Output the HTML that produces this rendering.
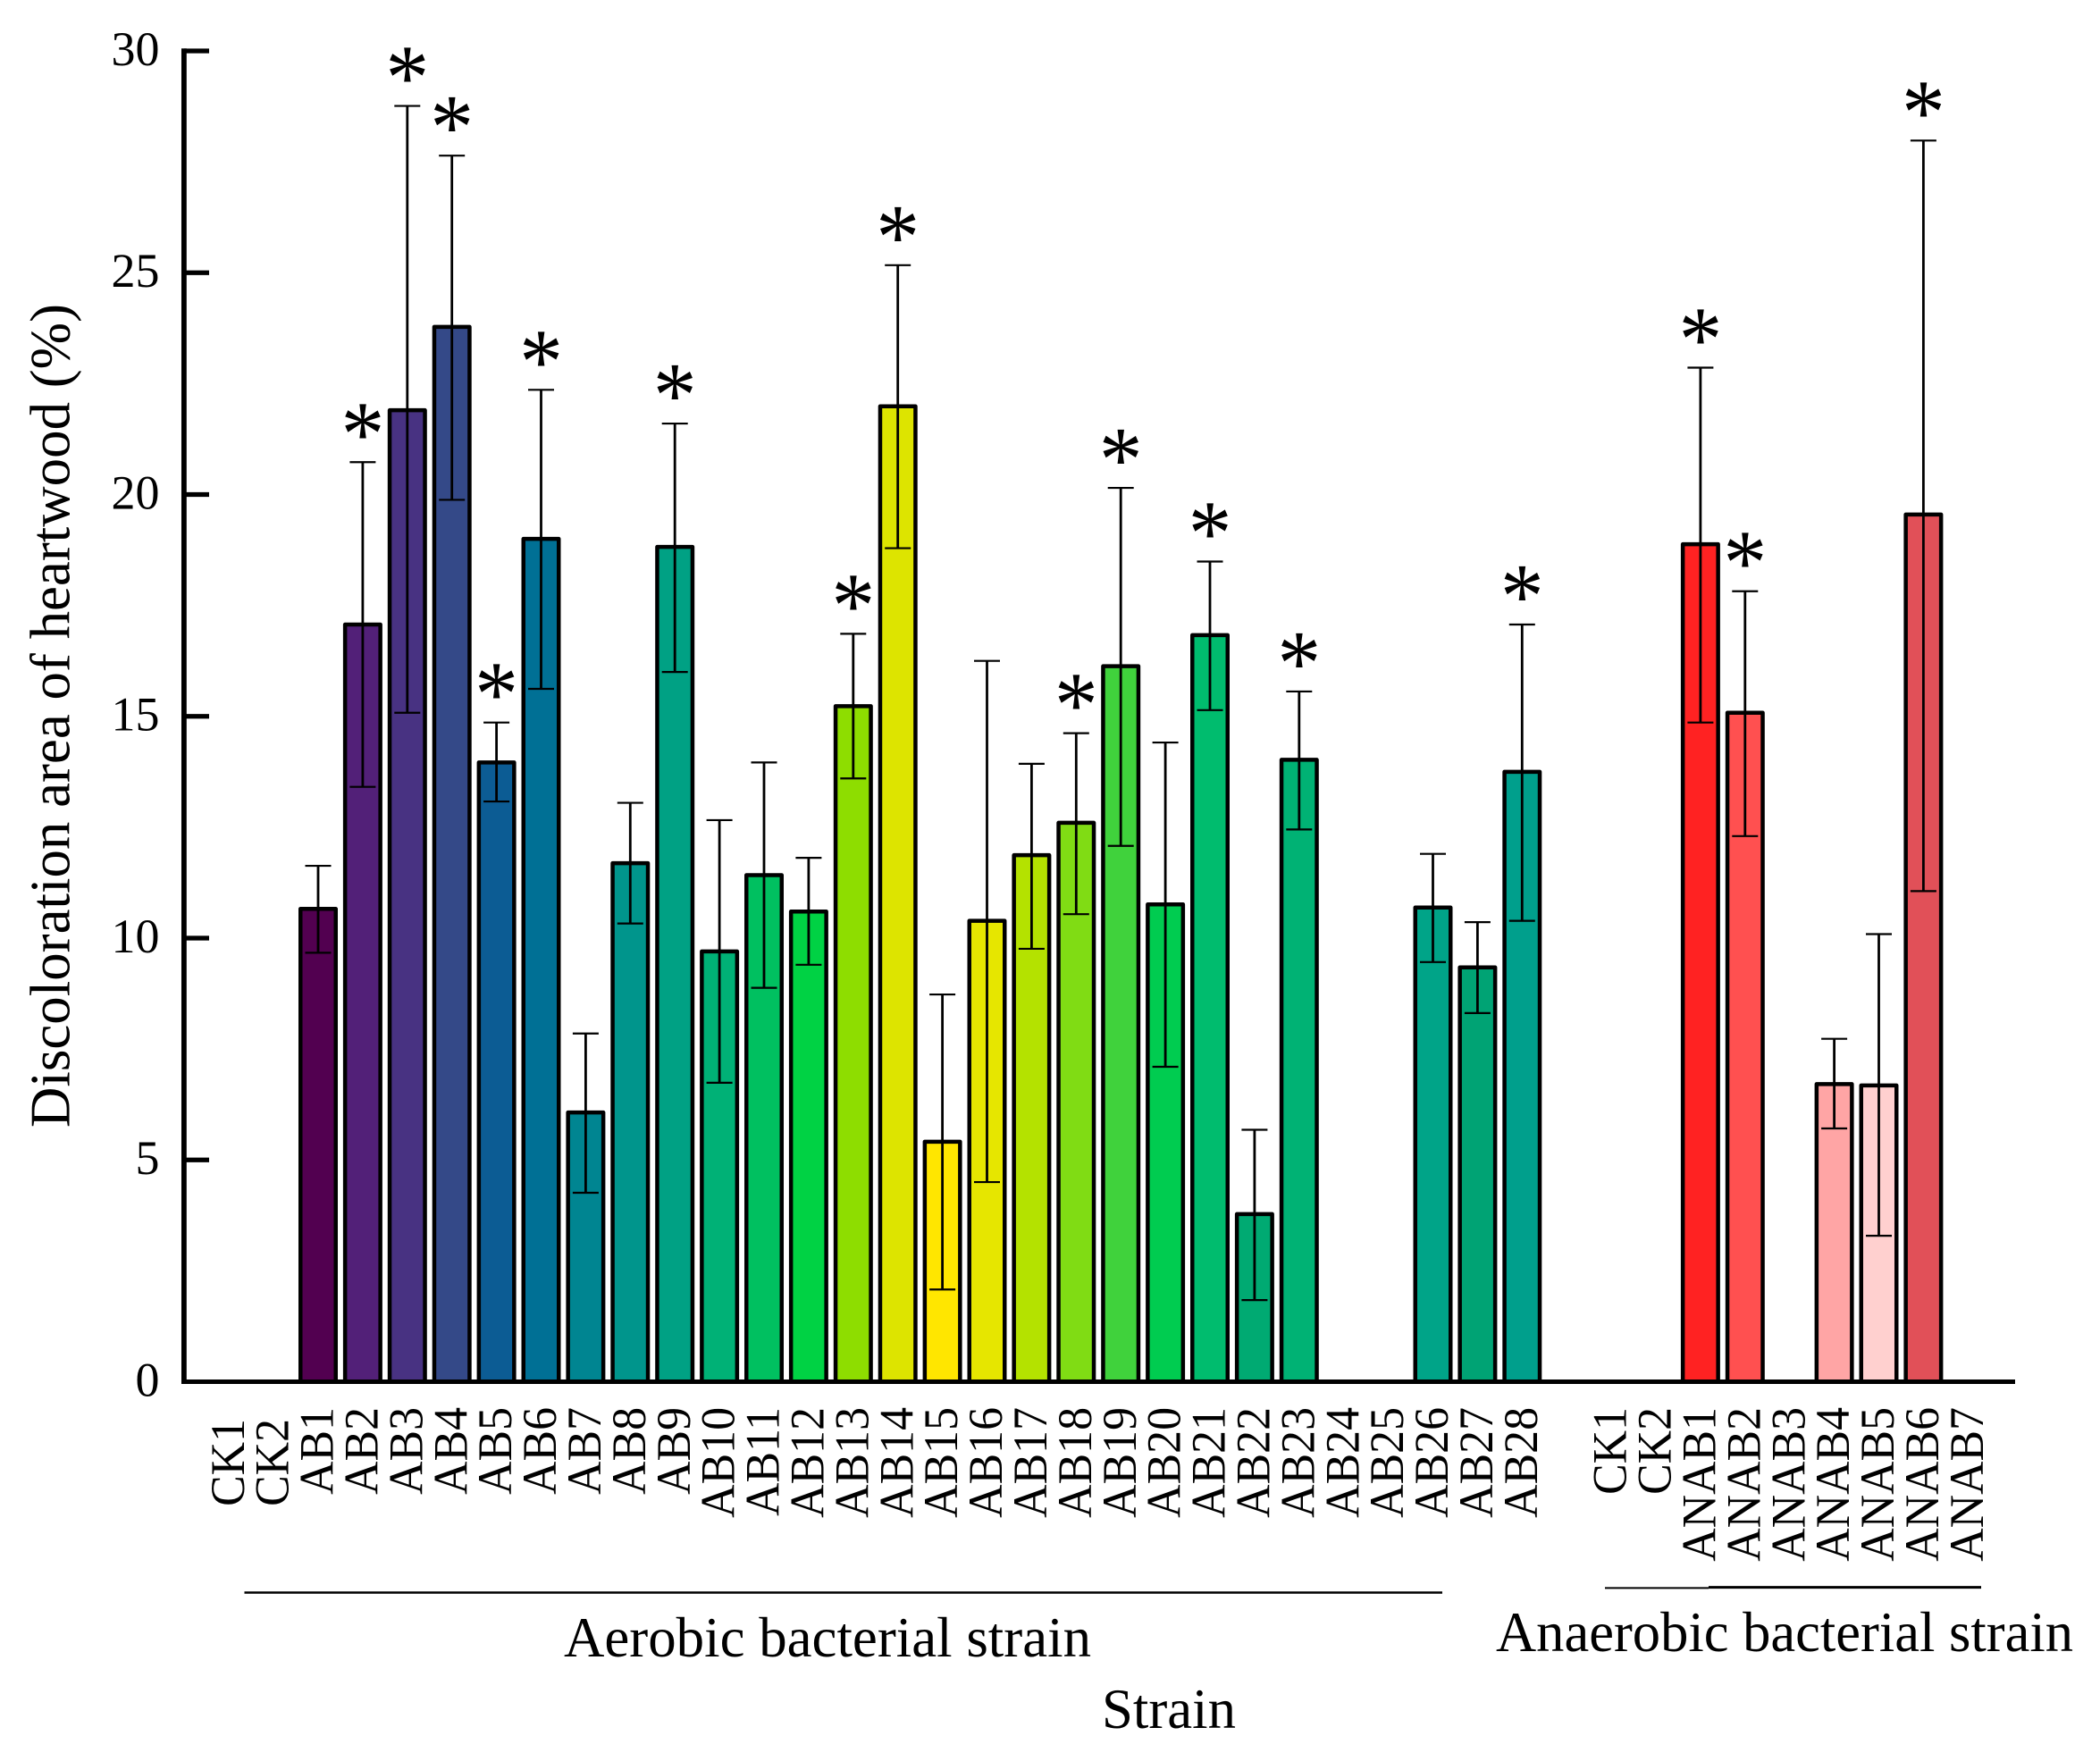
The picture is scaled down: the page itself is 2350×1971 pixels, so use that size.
<!DOCTYPE html>
<html lang="en">
<head>
<meta charset="utf-8">
<title>Discoloration area of heartwood by strain</title>
<style>
html,body{margin:0;padding:0;background:#fff;}
svg{display:block;}
text{font-family:"Liberation Serif","Times New Roman",serif;fill:#000;}
</style>
</head>
<body>
<svg id="chart" xmlns="http://www.w3.org/2000/svg" width="2350" height="1971" viewBox="0 0 2350 1971">
<rect x="0" y="0" width="2350" height="1971" fill="#fff"/>
<text x="77.3" y="801" font-size="63" text-anchor="middle" transform="rotate(-90 77.3 801)" textLength="922" lengthAdjust="spacingAndGlyphs">Discoloration area of heartwood (%)</text>
<text x="631" y="1854" font-size="64" textLength="590" lengthAdjust="spacingAndGlyphs">Aerobic bacterial strain</text>
<text x="1674" y="1848" font-size="64" textLength="646" lengthAdjust="spacingAndGlyphs">Anaerobic bacterial strain</text>
<text x="1233" y="1934" font-size="64" textLength="150" lengthAdjust="spacingAndGlyphs">Strain</text>
<line x1="273.5" x2="1614" y1="1782.5" y2="1782.5" stroke="#000" stroke-width="2.6"/>
<line x1="1796" x2="1912" y1="1777.4" y2="1777.4" stroke="#000" stroke-width="2"/>
<line x1="1912" x2="2217" y1="1776.6" y2="1776.6" stroke="#000" stroke-width="3"/>
<g id="bars"></g>
<g id="errors"></g>
<g id="stars"></g>
<g id="axes"></g>
<g id="xlabels"></g>
</svg>
<script>
const categories = ["CK1","CK2","AB1","AB2","AB3","AB4","AB5","AB6","AB7","AB8","AB9","AB10","AB11","AB12","AB13","AB14","AB15","AB16","AB17","AB18","AB19","AB20","AB21","AB22","AB23","AB24","AB25","AB26","AB27","AB28","","CK1","CK2","ANAB1","ANAB2","ANAB3","ANAB4","ANAB5","ANAB6","ANAB7"];
const means = [null,null,10.66,17.07,21.9,23.78,13.96,19.0,6.07,11.69,18.82,9.7,11.42,10.6,15.23,21.99,5.41,10.39,11.87,12.6,16.13,10.76,16.83,3.78,14.02,null,null,10.69,9.34,13.75,null,null,null,18.88,15.08,null,6.71,6.68,19.55,null];
const errHigh = [null,null,11.63,20.73,28.76,27.64,14.86,22.36,7.85,13.05,21.6,12.66,13.96,11.81,16.86,25.17,8.73,16.25,13.93,14.62,20.15,14.41,18.49,5.68,15.56,null,null,11.9,10.36,17.07,null,null,null,22.86,17.82,null,7.73,10.09,27.98,null];
const errLow = [null,null,9.67,13.41,15.08,19.88,13.08,15.62,4.26,10.33,16.0,6.74,8.88,9.4,13.6,18.79,2.08,4.5,9.76,10.54,12.08,7.1,15.14,1.84,12.45,null,null,9.46,8.31,10.39,null,null,null,14.86,12.3,null,5.71,3.29,11.06,null];
const significant = ["AB2","AB3","AB4","AB5","AB6","AB9","AB13","AB14","AB18","AB19","AB21","AB23","AB28","ANAB1","ANAB2","ANAB6"];
const yTicks = [0,5,10,15,20,25,30];
const barColors = ["","","#520050","#522078","#483282","#344988","#0c5c94","#007095","#008591","#00958c","#00a184","#00b176","#00c060","#00d244","#8edd00","#dde400","#ffe600","#e6e600","#b4e200","#80dc14","#40d23c","#00cc50","#00bc6e","#00aa72","#00b274","","","#00a488","#00a374","#009f8c","","","","#ff2222","#ff5050","","#ffa5a5","#ffd0cf","#e15058",""];

const NS = "http://www.w3.org/2000/svg";
const y0 = 1546.5, yPerUnit = 49.65, x0 = 256.2, band = 49.9, barW = 39.5;
function yScale(v){ return y0 - v * yPerUnit; }
function xScale(i){ return x0 + i * band; }
function make(parent, tag, attrs){
  const el = document.createElementNS(NS, tag);
  for (const k in attrs) el.setAttribute(k, attrs[k]);
  parent.appendChild(el);
  return el;
}
const gBars = document.getElementById("bars");
const gErr = document.getElementById("errors");
const gStars = document.getElementById("stars");
const gAxes = document.getElementById("axes");
const gX = document.getElementById("xlabels");

categories.forEach(function(name, i){
  const cx = xScale(i);
  if (name) {
    const drop = i < 2 ? 13 : 0;
    const ty = 1575 + drop;
    const lab = make(gX, "text", {x: 0, y: 0, "font-size": 54, "text-anchor": "end", transform: "translate(" + (cx + 16.6) + " " + ty + ") rotate(-90) scale(0.96 1)"});
    lab.textContent = name;
    
    
  }
  if (means[i] === null) return;
  const top = yScale(means[i]);
  const bar = make(gBars, "rect", {x: cx - barW / 2, y: top, width: barW, height: y0 - top, fill: barColors[i], stroke: "#000", "stroke-width": 4.5, "stroke-linejoin": "round"});
  
  
  const hi = yScale(errHigh[i]), lo = yScale(errLow[i]);
  const stem = make(gErr, "line", {x1: cx, x2: cx, y1: hi, y2: lo, stroke: "#000", "stroke-width": 2.8});
  
  
  const capTop = make(gErr, "line", {x1: cx - 14.5, x2: cx + 14.5, y1: hi, y2: hi, stroke: "#000", "stroke-width": 2.2});
  
  
  const capLow = make(gErr, "line", {x1: cx - 14.5, x2: cx + 14.5, y1: lo, y2: lo, stroke: "#000", "stroke-width": 2.2});
  
  
  if (significant.indexOf(name) >= 0) {
    const st = make(gStars, "text", {x: 0, y: 0, "font-size": 104, "text-anchor": "middle", transform: "translate(" + cx + " " + (hi + 3) + ") scale(0.94 1)"});
    st.textContent = "*";
    
    
  }
});

const yLine = make(gAxes, "line", {x1: 205.9, x2: 205.9, y1: yScale(30) - 2.7, y2: y0 + 2.5, stroke: "#000", "stroke-width": 5.8});


const xLine = make(gAxes, "line", {x1: 203, x2: 2255, y1: y0, y2: y0, stroke: "#000", "stroke-width": 5});


yTicks.forEach(function(t){
  const ty = yScale(t);
  if (t > 0) {
    const tk = make(gAxes, "line", {x1: 206, x2: 234, y1: ty, y2: ty, stroke: "#000", "stroke-width": 5.3});
    
    
  }
  const lab = make(gAxes, "text", {x: 178.5, y: ty + 15.8, "font-size": 54, "text-anchor": "end"});
  lab.textContent = String(t);
  
  
});
</script>
</body>
</html>
